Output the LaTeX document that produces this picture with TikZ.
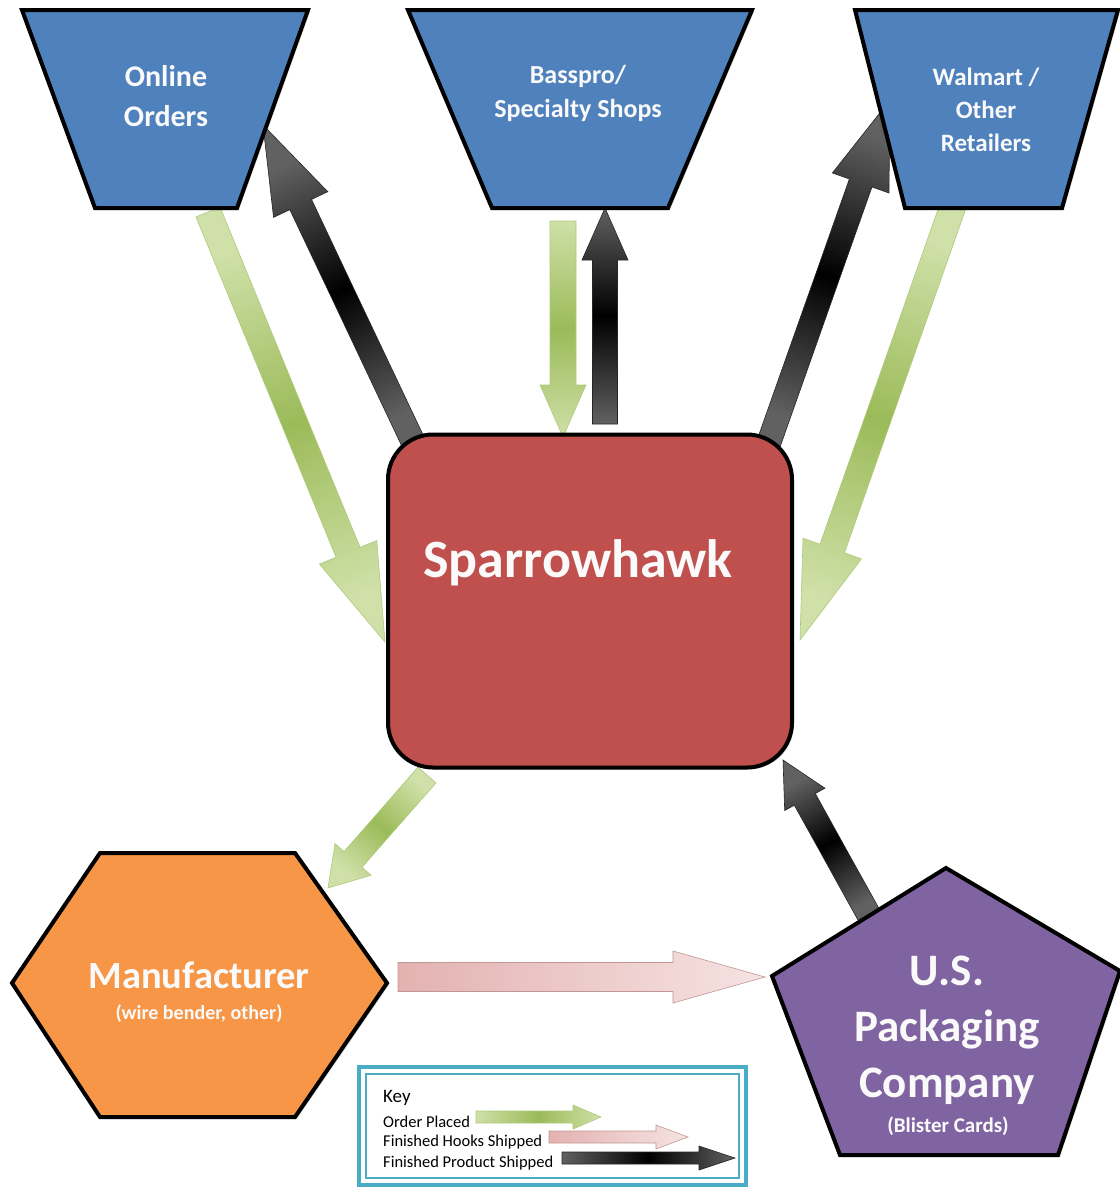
\documentclass[tikz,border=0pt]{standalone}
\usepackage{fontspec}
\setmainfont{Carlito}
\usetikzlibrary{calc,shadows,backgrounds}

\definecolor{boxblue}{HTML}{4F81BD}
\definecolor{hawkred}{HTML}{C0504D}
\definecolor{mfrorange}{HTML}{F79646}
\definecolor{packpurple}{HTML}{8064A2}
\definecolor{ordergreen}{HTML}{9BBB59}
\definecolor{ordergreenlt}{HTML}{CFE0A8}
\definecolor{hookpink}{HTML}{E3B2B1}
\definecolor{hookpinklt}{HTML}{F6E3E2}
\definecolor{keyteal}{HTML}{4BACC6}

% block arrow: style, tail, tip, shaft half width, head half width, head length
\newcommand\blockarrow[6]{%
  \coordinate (hb) at ($(#3)!#6!(#2)$);
  \path[#1] ($(#2)!#4!90:(#3)$) -- ($(hb)!#4!90:(#3)$) -- ($(hb)!#5!90:(#3)$)
    -- (#3) -- ($(hb)!#5!-90:(#3)$) -- ($(hb)!#4!-90:(#3)$)
    -- ($(#2)!#4!-90:(#3)$) -- cycle;}

\begin{document}
\begin{tikzpicture}[
        x=1pt, y=-1pt,
        softshadow/.style = {drop shadow={opacity=.3, shadow xshift=2pt, shadow yshift=-2pt}},
        hub/.style = {rectangle, rounded corners=45pt, draw, line width=4pt, fill=hawkred,
            minimum width=404pt, minimum height=333pt, softshadow},
        block/.style = {draw, line width=4pt, line join=miter, softshadow},
        whitelabel/.style = {text=white!96!gray, align=center, inner sep=0pt, font=\bfseries},
        keytext/.style = {anchor=west, inner sep=0pt, font=\fontsize{16.5}{18}\selectfont},
        orderarrow/.style = {top color=ordergreenlt, bottom color=ordergreenlt, middle color=ordergreen,
            draw=ordergreen!80, line width=.6pt},
        productarrow/.style = {top color=black!62, bottom color=black!62, middle color=black,
            draw=black!85, line width=.6pt},
        hookarrow/.style = {left color=hookpink, right color=hookpinklt,
            draw=hookpink!85!black, line width=.6pt}
        ]
        \useasboundingbox (0,0) rectangle (1120,1187);

        % retailers
        \draw[block, fill=boxblue] (22,10) -- (308,10) -- (237,208) -- (95,208) -- cycle;
        \draw[block, fill=boxblue] (408,10) -- (752,10) -- (668,208) -- (492,208) -- cycle;
        \draw[block, fill=boxblue] (855,10) -- (1118,10) -- (1062,208) -- (905,208) -- cycle;

        \node[whitelabel, font=\bfseries\fontsize{30}{40}\selectfont] (online) at (166,96) {Online\\Orders};
        \node[whitelabel, font=\bfseries\fontsize{26}{34}\selectfont] (basspro) at (578,93) {Basspro/\\Specialty Shops};
        \node[whitelabel, font=\bfseries\fontsize{25}{33}\selectfont] (walmart) at (986,110) {Walmart /\\Other\\Retailers};

        % sparrowhawk
        \node[hub] (hawk) at (590,601) {};
        \node[whitelabel, font=\bfseries\fontsize{54}{60}\selectfont] (hawk-txt) at ([xshift=-12pt,yshift=38pt]hawk.center) {Sparrowhawk};

        % manufacturer and packaging
        \draw[block, fill=mfrorange] (12,983) -- (100,853) -- (295,853) -- (387,983) -- (295,1117) -- (100,1117) -- cycle;
        \node[whitelabel, font=\bfseries\fontsize{38.5}{44}\selectfont] (mfr) at (199,975) {Manufacturer};
        \node[whitelabel, font=\bfseries\fontsize{20}{24}\selectfont] (mfr-note) at (199,1014) {(wire bender, other)};

        \draw[block, fill=packpurple] (946,868) -- (1120,971) -- (1058,1155) -- (840,1155) -- (772,976) -- cycle;
        \node[whitelabel, font=\bfseries\fontsize{45}{56}\selectfont] (pack) at (947,1030) {U.S.\\Packaging\\Company};
        \node[whitelabel, font=\bfseries\fontsize{21}{24}\selectfont] (pack-note) at (948,1126) {(Blister Cards)};

        % arrow ends
        \coordinate (o-in) at (208,212);   \coordinate (o-hawk) at (385,642);
        \coordinate (o-out) at (263,125);  \coordinate (hawk-o) at (416,448);
        \coordinate (b-in) at (563,221);   \coordinate (b-hawk) at (563,437);
        \coordinate (b-out) at (605,208);  \coordinate (hawk-b) at (605,424);
        \coordinate (w-out) at (890,100);  \coordinate (hawk-w) at (768,445);
        \coordinate (w-in) at (953,206);   \coordinate (w-hawk) at (800,640);
        \coordinate (hawk-m) at (427,775); \coordinate (m-in) at (328,888);
        \coordinate (m-out) at (398,977);  \coordinate (p-in) at (765,977);
        \coordinate (p-out) at (870,917);  \coordinate (p-hawk) at (783,760);

        \begin{scope}[on background layer]
        \blockarrow{orderarrow, shading angle=22}{o-in}{o-hawk}{13pt}{31pt}{97pt}
        \blockarrow{productarrow, shading angle=25}{hawk-o}{o-out}{12pt}{30pt}{88pt}
        \blockarrow{orderarrow}{b-in}{b-hawk}{13pt}{23pt}{52pt}
        \blockarrow{productarrow}{hawk-b}{b-out}{12.5pt}{23pt}{52pt}
        \blockarrow{productarrow, shading angle=-19}{hawk-w}{w-out}{12pt}{30pt}{88pt}
        \blockarrow{orderarrow, shading angle=-19}{w-in}{w-hawk}{13pt}{31pt}{97pt}
        \blockarrow{orderarrow, shading angle=-41}{hawk-m}{m-in}{12pt}{24pt}{38pt}
        \blockarrow{productarrow, shading angle=29}{p-out}{p-hawk}{12pt}{23pt}{45pt}
        \blockarrow{hookarrow}{m-out}{p-in}{14.5pt}{26pt}{92pt}
        \end{scope}

        % key
        \draw[keyteal, line width=4pt] (359,1067) rectangle (746,1185);
        \draw[keyteal, line width=1.5pt] (366,1074) rectangle (739,1178);
        \node[keytext, font=\fontsize{19}{22}\selectfont] (key) at (383,1098) {Key};
        \node[keytext] (key-order) at (383,1122) {Order Placed};
        \node[keytext] (key-hooks) at (383,1142) {Finished Hooks Shipped};
        \node[keytext] (key-product) at (383,1163) {Finished Product Shipped};

        \coordinate (ko-a) at (476,1117); \coordinate (ko-b) at (601,1117);
        \coordinate (kh-a) at (549,1137); \coordinate (kh-b) at (688,1137);
        \coordinate (kp-a) at (562,1158); \coordinate (kp-b) at (735,1158);
        \blockarrow{orderarrow, shading angle=90}{ko-a}{ko-b}{6pt}{12pt}{28pt}
        \blockarrow{hookarrow}{kh-a}{kh-b}{6pt}{12pt}{32pt}
        \blockarrow{productarrow, shading angle=90}{kp-a}{kp-b}{6pt}{12pt}{36pt}

    \end{tikzpicture}
\end{document}
